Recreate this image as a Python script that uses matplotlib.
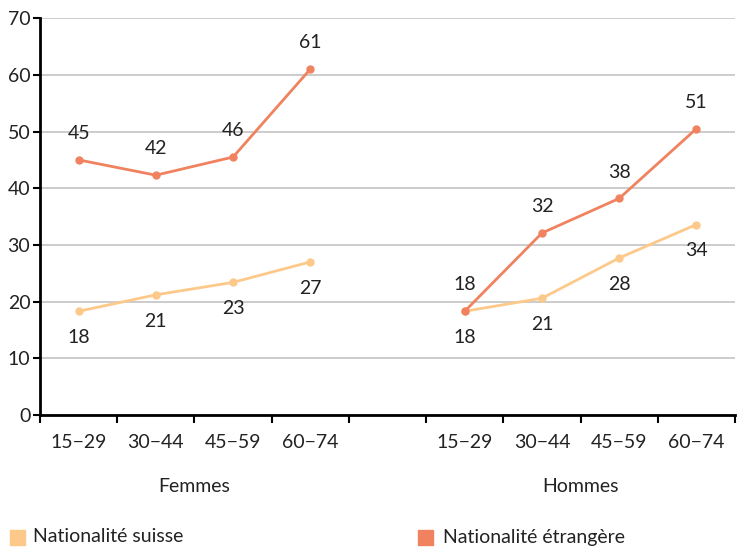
import numpy as np
import matplotlib.pyplot as plt

plt.rcParams['font.family'] = ['Lato', 'DejaVu Sans']

age_groups = ['15\u221229', '30\u221244', '45\u221259', '60\u221274']
sexes = ['Femmes', 'Hommes']
series_names = ['Nationalité suisse', 'Nationalité étrangère']

femmes_suisse = [18.3, 21.2, 23.4, 27.0]
femmes_etrangere = [45.0, 42.3, 45.5, 61.0]
hommes_suisse = [18.3, 20.6, 27.7, 33.6]
hommes_etrangere = [18.3, 32.1, 38.2, 50.5]

label_femmes_suisse = [18, 21, 23, 27]
label_femmes_etrangere = [45, 42, 46, 61]
label_hommes_suisse = [18, 21, 28, 34]
label_hommes_etrangere = [18, 32, 38, 51]

c_suisse = '#fdc98a'
c_etr = '#f0825f'
txt = '#222222'
fs = 14

fig = plt.figure(figsize=(7.42, 5.49), dpi=100)
ax = fig.add_axes([0.0539, 0.244, 0.9367, 0.723])

x_f = np.arange(4)
x_h = np.arange(4) + 5

def draw(xs, ys, labels, color, above):
    ax.plot(xs, ys, color=color, lw=2, marker='o', ms=5, zorder=3)
    dy = 19 if above else -19
    for x, y, l in zip(xs, ys, labels):
        ax.annotate(str(l), (x, y), xytext=(0, dy), textcoords='offset points',
                    ha='center', va='center', fontsize=fs, color=txt)

draw(x_f, femmes_suisse, label_femmes_suisse, c_suisse, False)
draw(x_f, femmes_etrangere, label_femmes_etrangere, c_etr, True)
draw(x_h, hommes_suisse, label_hommes_suisse, c_suisse, False)
draw(x_h, hommes_etrangere, label_hommes_etrangere, c_etr, True)

ax.set_xlim(-0.5, 8.5)
ax.set_ylim(0, 70)
ax.set_yticks(np.arange(0, 71, 10))
ax.yaxis.grid(True, color='#c4c4c4', lw=1.2)
ax.set_axisbelow(True)

ax.set_xticks(np.concatenate([x_f, x_h]))
ax.set_xticklabels(age_groups + age_groups)
ax.set_xticks(np.arange(-0.5, 9, 1), minor=True)
ax.tick_params(axis='x', which='major', length=0, pad=14, labelsize=fs, labelcolor=txt)
ax.tick_params(axis='x', which='minor', length=6, width=1.5, direction='out')
ax.tick_params(axis='y', length=5, width=1.5, labelsize=fs, labelcolor=txt, pad=2)

for s in ['top', 'right']:
    ax.spines[s].set_visible(False)
for s in ['left', 'bottom']:
    ax.spines[s].set_linewidth(2)

ax.text(np.mean(x_f), -0.18, sexes[0], transform=ax.get_xaxis_transform(),
        ha='center', va='center', fontsize=fs, color=txt)
ax.text(np.mean(x_h), -0.18, sexes[1], transform=ax.get_xaxis_transform(),
        ha='center', va='center', fontsize=fs, color=txt)

# legend
fig.patches.append(plt.Rectangle((10 / 742, 1 - 545 / 549), 15 / 742, 15 / 549,
                                 transform=fig.transFigure, color=c_suisse))
fig.text(33 / 742, 1 - 537 / 549, series_names[0], ha='left', va='center',
         fontsize=fs, color=txt)
fig.patches.append(plt.Rectangle((418 / 742, 1 - 545 / 549), 15 / 742, 15 / 549,
                                 transform=fig.transFigure, color=c_etr))
fig.text(443 / 742, 1 - 537 / 549, series_names[1], ha='left', va='center',
         fontsize=fs, color=txt)

fig.savefig('out.png', dpi=100)
